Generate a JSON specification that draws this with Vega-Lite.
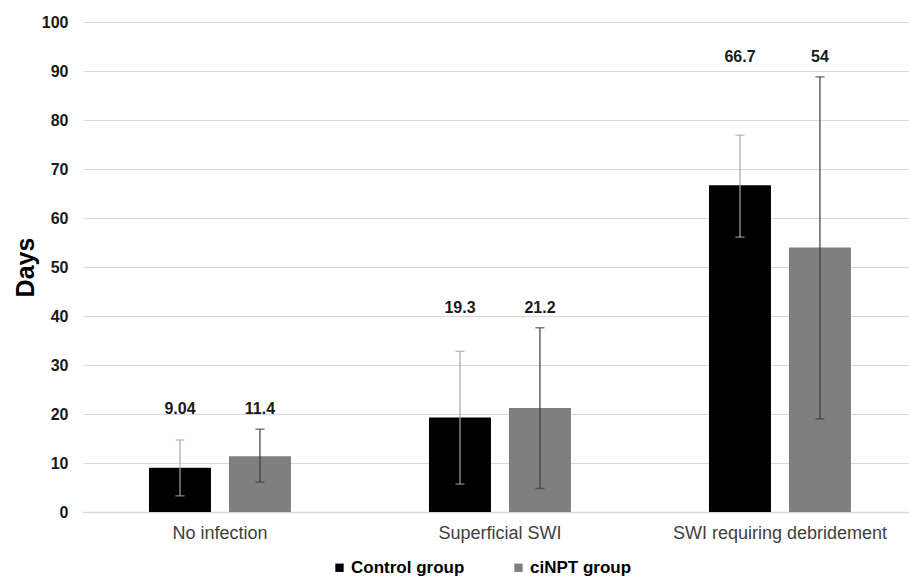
{
  "$schema": "https://vega.github.io/schema/vega-lite/v6.json",
  "width": 826,
  "height": 490,
  "autosize": {"type": "none"},
  "padding": {"left": 83, "top": 22, "right": 0, "bottom": 68},
  "background": "white",
  "config": {
    "font": "Liberation Sans",
    "view": {"stroke": null},
    "axisY": {
      "title": "Days",
      "titleFontSize": 25,
      "titleFontWeight": "bold",
      "titleColor": "#000000",
      "titlePadding": 3,
      "labelOverlap": false,
      "ticks": false,
      "domain": false,
      "labelPadding": 15,
      "labelFontSize": 16,
      "labelFontWeight": "bold",
      "labelColor": "#1a1a1a",
      "grid": true,
      "gridColor": "#d9d9d9",
      "gridWidth": 1.2
    }
  },
  "data": {
    "values": [
      {"category": "No infection", "group": "Control group", "value": 9.04, "label": "9.04", "lo": 3.3, "hi": 14.7},
      {"category": "No infection", "group": "ciNPT group", "value": 11.4, "label": "11.4", "lo": 6.1, "hi": 16.9},
      {"category": "Superficial SWI", "group": "Control group", "value": 19.3, "label": "19.3", "lo": 5.7, "hi": 32.8},
      {"category": "Superficial SWI", "group": "ciNPT group", "value": 21.2, "label": "21.2", "lo": 4.8, "hi": 37.6},
      {"category": "SWI requiring debridement", "group": "Control group", "value": 66.7, "label": "66.7", "lo": 56.1, "hi": 76.9},
      {"category": "SWI requiring debridement", "group": "ciNPT group", "value": 54, "label": "54", "lo": 19, "hi": 88.8}
    ]
  },
  "transform": [
    {"joinaggregate": [{"op": "max", "field": "hi", "as": "groupTop"}], "groupby": ["category"]}
  ],
  "encoding": {
    "x": {
      "field": "category",
      "type": "nominal",
      "sort": ["No infection", "Superficial SWI", "SWI requiring debridement"],
      "scale": {"paddingInner": 0.493, "paddingOuter": 0.2215, "align": 0.532},
      "axis": {
        "title": null,
        "labelAngle": 0,
        "labelLimit": 400,
        "ticks": false,
        "labelPadding": 12,
        "labelFontSize": 18,
        "labelColor": "#404040",
        "domain": true,
        "domainColor": "#d9d9d9",
        "domainWidth": 1.5
      }
    },
    "xOffset": {
      "field": "group",
      "type": "nominal",
      "sort": ["Control group", "ciNPT group"],
      "scale": {"paddingInner": 0.225, "paddingOuter": 0}
    }
  },
  "layer": [
    {
      "mark": {"type": "bar"},
      "encoding": {
        "y": {
          "field": "value",
          "type": "quantitative",
          "scale": {"domain": [0, 100], "nice": false},
          "axis": {"title": "Days", "values": [0, 10, 20, 30, 40, 50, 60, 70, 80, 90, 100]}
        },
        "color": {
          "field": "group",
          "type": "nominal",
          "sort": ["Control group", "ciNPT group"],
          "scale": {"domain": ["Control group", "ciNPT group"], "range": ["#000000", "#7f7f7f"]},
          "legend": {
            "title": null,
            "orient": "none",
            "legendX": 248,
            "legendY": 537,
            "direction": "horizontal",
            "symbolType": "square",
            "symbolSize": 70,
            "symbolStrokeWidth": 0,
            "labelFontSize": 17,
            "labelFontWeight": "bold",
            "labelColor": "#000000",
            "labelOffset": 3,
            "columnPadding": 45
          }
        }
      }
    },
    {
      "mark": {"type": "rule", "strokeWidth": 1.2},
      "encoding": {
        "y": {"field": "lo", "type": "quantitative", "axis": {"title": "Days", "values": [0, 10, 20, 30, 40, 50, 60, 70, 80, 90, 100]}},
        "y2": {"field": "hi"},
        "color": {"condition": {"test": "datum.group === 'Control group'", "value": "#a6a6a6"}, "value": "#3a3a3a"}
      }
    },
    {
      "mark": {"type": "tick", "size": 9, "thickness": 1.4},
      "encoding": {
        "y": {"field": "lo", "type": "quantitative", "axis": {"title": "Days", "values": [0, 10, 20, 30, 40, 50, 60, 70, 80, 90, 100]}},
        "color": {"condition": {"test": "datum.group === 'Control group'", "value": "#a6a6a6"}, "value": "#3a3a3a"}
      }
    },
    {
      "mark": {"type": "tick", "size": 9, "thickness": 1.4},
      "encoding": {
        "y": {"field": "hi", "type": "quantitative", "axis": {"title": "Days", "values": [0, 10, 20, 30, 40, 50, 60, 70, 80, 90, 100]}},
        "color": {"condition": {"test": "datum.group === 'Control group'", "value": "#a6a6a6"}, "value": "#3a3a3a"}
      }
    },
    {
      "mark": {"type": "text", "dy": -20, "fontSize": 16, "fontWeight": "bold", "color": "#1a1a1a", "baseline": "middle"},
      "encoding": {
        "y": {"field": "groupTop", "type": "quantitative", "axis": {"title": "Days", "values": [0, 10, 20, 30, 40, 50, 60, 70, 80, 90, 100]}},
        "text": {"field": "label", "type": "nominal"}
      }
    }
  ]
}
